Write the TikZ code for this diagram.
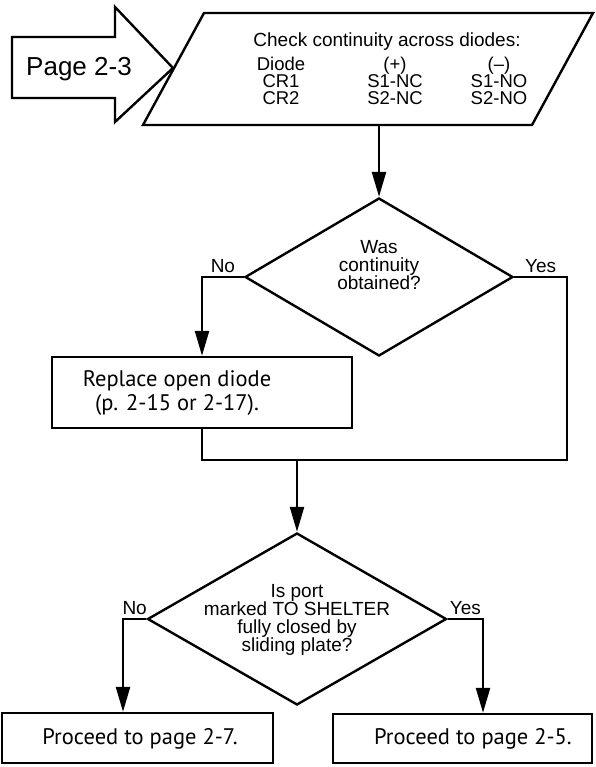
\documentclass[tikz,border=0pt]{standalone}
\usepackage{fontspec}
\setmainfont{Liberation Sans}
\newfontfamily\boxfont{PT Sans}
\usetikzlibrary{arrows.meta,shapes.geometric}

\tikzset{
  flow/.style={line width=2.4pt},
  arr/.style={flow,-{Triangle[width=14pt,length=25pt]}},
  stepbox/.style={draw,line width=2.4pt,rectangle,inner sep=0pt},
  decision/.style={draw,line width=2.4pt,diamond,inner sep=0pt},
  yesno/.style={font=\fontsize{19}{19}\selectfont},
  qtext/.style={align=center,font=\fontsize{19}{18.2}\selectfont},
  tabtext/.style={align=center,font=\fontsize{18.5}{16.8}\selectfont},
  boxtext/.style={align=center,font=\boxfont\fontsize{22.5}{24}\selectfont},
}

\begin{document}
\begin{tikzpicture}[x=1pt,y=-1pt]
  \useasboundingbox (0,0) rectangle (595,767);
  % entry arrow
  \draw[flow] (12,37) -- (115,37) -- (115,7) -- (173,68) -- (115,122)
    -- (115,98) -- (12,98) -- cycle;
  \node[font=\fontsize{26}{26}\selectfont] (page) at (79,69) {Page 2-3};
  % continuity check
  \draw[flow] (143,125) -- (204,13) -- (593,13) -- (532,125) -- cycle;
  \node[qtext] (check) at (387,42) {Check continuity across diodes:};
  \foreach \x/\a/\b/\c [count=\i] in {281/Diode/CR1/CR2, 395/{(+)}/S1-NC/S2-NC, 499/{(--)}/S1-NO/S2-NO}
    \node[tabtext] (col\i) at (\x,81) {\a\\\b\\\c};
  \coordinate (chk-s) at (379,125);

  \node[decision,minimum width=268pt,minimum height=158pt] (was) at (379,277) {};
  \node[qtext] (wastxt) at (379,265) {Was\\continuity\\obtained?};

  \node[stepbox,minimum width=300pt,minimum height=71pt] (repl) at (202,392.5) {};
  \node[boxtext] (repltxt) at (177,393) {Replace open diode\\(p. 2-15 or 2-17).};

  \node[decision,minimum width=299pt,minimum height=172pt] (port) at (297,619) {};
  \node[qtext] (porttxt) at (297,620) {Is port\\marked TO SHELTER\\fully closed by\\sliding plate?};

  \node[stepbox,minimum width=271pt,minimum height=50pt] (pg7) at (137.5,738) {};
  \node[stepbox,minimum width=259pt,minimum height=49pt] (pg5) at (462.5,738.5) {};
  \node[boxtext] (pg7txt) at (140,739) {Proceed to page 2-7.};
  \node[boxtext] (pg5txt) at (473,739) {Proceed to page 2-5.};

  % connectors
  \coordinate (merge) at (297,460);
  \coordinate (yesturn) at (567,460);
  \coordinate (nodrop) at (123,619);
  \coordinate (yesdrop) at (483,619);
  \draw[arr] (chk-s) -- (was.north);
  \draw[arr] (was.west) -| node[pos=0.25,above,yesno] {No} (repl.north);
  \draw[flow] (was.east) -| node[pos=0.25,above,yesno] {Yes} (yesturn)
    -- (repl.south |- merge) -- (repl.south);
  \draw[arr] (merge) -- (port.north);
  \draw[arr] (port.west) -- node[above,yesno] {No} (nodrop) -- (nodrop |- pg7.north);
  \draw[arr] (port.east) -- node[above,yesno] {Yes} (yesdrop) -- (yesdrop |- pg5.north);
\end{tikzpicture}
\end{document}
